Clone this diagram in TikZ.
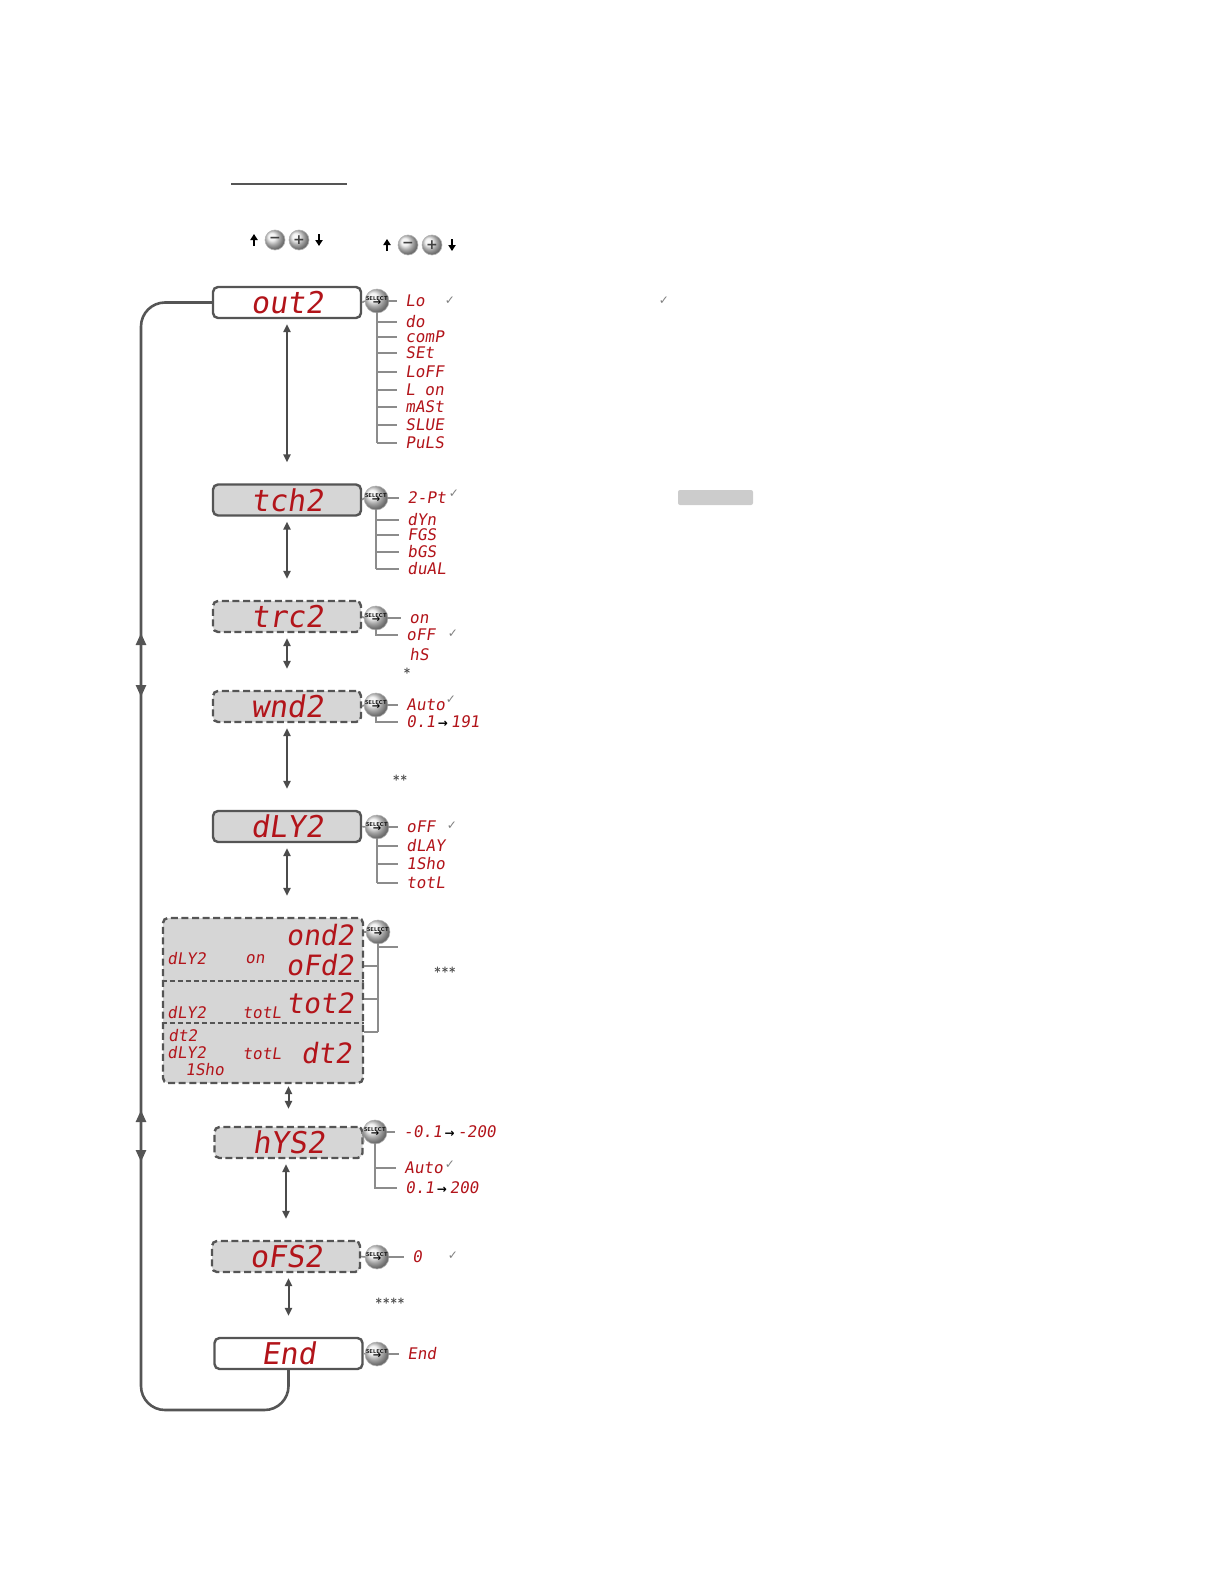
\documentclass[tikz,border=0pt]{standalone}
\usepackage{fontspec}
\newfontfamily\lcdfont{DejaVu Sans Mono}[FakeSlant=0.15]
\newfontfamily\symfont{DejaVu Sans}
\usetikzlibrary{arrows.meta}

\definecolor{lcdred}{RGB}{178,20,26}
\definecolor{lcdgray}{RGB}{214,214,214}
\definecolor{framegray}{RGB}{85,85,85}
\definecolor{branchgray}{RGB}{140,140,140}
\definecolor{arrgray}{RGB}{75,75,75}

\newcommand{\selmark}{SELECT\\[-0.8pt]{\symfont\fontsize{5}{5}\selectfont →}}
\newcommand{\lcdto}{{\color{black}\symfont\bfseries\fontsize{6}{6}\selectfont →}}

\tikzset{
  lcdbox/.style={draw=framegray, line width=1.2pt, rounded corners=2.5pt,
    minimum width=74pt, minimum height=15.5pt, inner sep=0pt,
    text=lcdred, font=\lcdfont\fontsize{15}{15}\selectfont,
    text height=11pt, text depth=0pt},
  whitelcd/.style={lcdbox, fill=white},
  graylcd/.style={lcdbox, fill=lcdgray},
  dashlcd/.style={lcdbox, fill=lcdgray, dash pattern=on 3.5pt off 1.8pt},
  selbtn/.style={circle, draw=gray!60, line width=0.3pt, shade, ball color=gray!15,
    minimum size=11.5pt, inner sep=0pt, align=center,
    font=\sffamily\bfseries\fontsize{2.8}{2.6}\selectfont},
  keybtn/.style={circle, draw=gray!60, line width=0.3pt, shade, ball color=gray!15,
    minimum size=10pt, inner sep=0pt, text=black!75,
    font=\symfont\bfseries\fontsize{7}{7}\selectfont},
  opt/.style={anchor=west, inner sep=0pt, text=lcdred,
    font=\lcdfont\fontsize{8}{8}\selectfont, text height=5.8pt, text depth=0pt},
  bigtxt/.style={anchor=east, inner sep=0pt, text=lcdred,
    font=\lcdfont\fontsize{14}{14}\selectfont, text height=10pt, text depth=0pt},
  tick/.style={inner sep=0pt, text=gray, font=\symfont\fontsize{6}{6}\selectfont},
  stars/.style={inner sep=0pt, text=black!70, font=\sffamily\fontsize{7}{7}\selectfont},
  branch/.style={draw=branchgray, line width=0.8pt},
  twig/.style={branch, shorten >=4pt},
  divline/.style={draw=framegray, line width=0.9pt, dash pattern=on 2.5pt off 1.5pt},
  flowarr/.style={draw=arrgray, line width=1pt,
    {Triangle[length=4pt,width=3.6pt]}-{Triangle[length=4pt,width=3.6pt]},
    shorten <=2.5pt, shorten >=10.5pt},
  loopline/.style={draw=framegray, line width=1.3pt, rounded corners=12pt},
  looparr/.style={draw=framegray, line width=1.3pt,
    {Triangle[length=6pt,width=5pt]}-{Triangle[length=6pt,width=5pt]}},
  keyarr/.style={draw=black, line width=1pt, -{Triangle[length=3pt,width=3.6pt]}},
}

\begin{document}
\begin{tikzpicture}[x=0.5pt, y=-0.5pt]
\useasboundingbox (0,0) rectangle (1224,1584);

% heading rule and keys
\draw [framegray, line width=1pt] (231,184) to (347,184);
\node [keybtn] (mnA) at (275,240) {−};
\node [keybtn] (plA) at (299,240) {+};
\draw [keyarr] (254,246) to (254,234);
\draw [keyarr] (319,234) to (319,246);
\node [keybtn] (mnB) at (408,245) {−};
\node [keybtn] (plB) at (432,245) {+};
\draw [keyarr] (387,251) to (387,239);
\draw [keyarr] (452,239) to (452,251);
\node [tick] (ckR) at (664,301) {✓};
\fill [gray!40, rounded corners=1pt] (678,490) rectangle (753,505);

% displays
\node [whitelcd] (out2) at (287,302.5) {out2};
\node [graylcd] (tch2) at (287,500) {tch2};
\node [dashlcd] (trc2) at (287,616.5) {trc2};
\node [dashlcd] (wnd2) at (287,706.5) {wnd2};
\node [graylcd] (dly2) at (287,826.5) {dLY2};
\node [dashlcd, minimum width=100pt, minimum height=82.5pt] (dlyset) at (263,1000.5) {};
\node [dashlcd] (hys2) at (288.5,1142.5) {hYS2};
\node [dashlcd] (ofs2) at (286,1256.5) {oFS2};
\node [whitelcd] (fin) at (288.5,1353.5) {End};

% inside the delay box
\draw [divline] (dlyset.west |- 0,981) to (dlyset.east |- 0,981);
\draw [divline] (dlyset.west |- 0,1023) to (dlyset.east |- 0,1023);
\node [bigtxt] (ond2) at (354,935) {ond2};
\node [bigtxt] (ofd2) at (354,965) {oFd2};
\node [bigtxt] (tot2) at (354,1003) {tot2};
\node [bigtxt] (dt2) at (352,1053) {dt2};
\node [opt] (lbA) at (167,959) {dLY2};
\node [opt, anchor=center] (lbB) at (255,958) {on};
\node [opt] (lbC) at (167,1013) {dLY2};
\node [opt, anchor=center] (lbD) at (262,1013) {totL};
\node [opt] (lbE) at (168,1036) {dt2};
\node [opt] (lbF) at (167,1053) {dLY2};
\node [opt] (lbG) at (185,1070) {1Sho};
\node [opt, anchor=center] (lbH) at (262,1054) {totL};

% flow arrows
\draw [flowarr] (out2) to (tch2);
\draw [flowarr] (tch2) to (trc2);
\draw [flowarr] (trc2) to (wnd2);
\draw [flowarr] (wnd2) to (dly2);
\draw [flowarr] (dly2.south) to (dly2.south |- dlyset.north);
\draw [flowarr, shorten <=1pt, shorten >=8.5pt] (hys2.north |- dlyset.south) to (hys2.north);
\draw [flowarr] (hys2.south -| ofs2.north) to (ofs2.north);
\draw [flowarr] (ofs2.south -| fin.north) to (fin.north);

% return loop
\draw [loopline] (out2.west) -| (141,1410) -| (fin.south);
\coordinate (lpA) at (141,633);
\coordinate (lpB) at (141,697);
\coordinate (lpC) at (141,1110);
\coordinate (lpD) at (141,1162);
\draw [looparr] (lpA) to (lpB);
\draw [looparr] (lpC) to (lpD);

% out2 choices
\node [selbtn] (selA) at (377,301) {\selmark};
\draw [branch] (out2.east) to (selA.west);
\node [opt] (oLo) at (405,301) {Lo};
\draw [twig] (selA.east) to (oLo.west);
\foreach \t/\y in {do/322, comP/337, SEt/353, LoFF/372, L on/390, mASt/407, SLUE/425, PuLS/443}
  {\node [opt] (oa\y) at (405,\y) {\t};
   \draw [twig] (selA.south |- oa\y.west) to (oa\y.west);}
\draw [branch] (selA.south) to (selA.south |- oa443.west);
\node [tick] (ckA) at (450,301) {✓};

% tch2 choices
\node [selbtn] (selB) at (376,498) {\selmark};
\draw [branch] (tch2.east) to (selB.west);
\node [opt] (o2pt) at (407,498) {2-Pt};
\draw [twig] (selB.east) to (o2pt.west);
\foreach \t/\y in {dYn/520, FGS/535, bGS/552, duAL/569}
  {\node [opt] (ob\y) at (407,\y) {\t};
   \draw [twig] (selB.south |- ob\y.west) to (ob\y.west);}
\draw [branch] (selB.south) to (selB.south |- ob569.west);
\node [tick] (ckB) at (454,494) {✓};

% trc2 choices
\node [selbtn] (selC) at (376,618) {\selmark};
\draw [branch] (trc2.east) to (selC.west);
\node [opt] (oOn) at (409,618) {on};
\draw [twig] (selC.east) to (oOn.west);
\node [opt] (oOff) at (406,635) {oFF};
\draw [branch] (selC.south) |- ([xshift=-4pt]oOff.west);
\node [opt] (oHs) at (409,655) {hS};
\node [tick] (ckC) at (453,634) {✓};
\node [stars] (stA) at (407,673) {*};

% wnd2 choices
\node [selbtn] (selD) at (376,705) {\selmark};
\draw [branch] (wnd2.east) to (selD.west);
\node [opt] (oAutoD) at (406,705) {Auto};
\draw [twig] (selD.east) to (oAutoD.west);
\node [opt] (oRngD) at (406,722) {0.1\,\lcdto\,191};
\draw [branch] (selD.south) |- ([xshift=-4pt]oRngD.west);
\node [tick] (ckD) at (451,700) {✓};
\node [stars] (stB) at (400,780) {**};

% dLY2 choices
\node [selbtn] (selE) at (377,827) {\selmark};
\draw [branch] (dly2.east) to (selE.west);
\node [opt] (oOffE) at (406,827) {oFF};
\draw [twig] (selE.east) to (oOffE.west);
\foreach \t/\y in {dLAY/846, 1Sho/864, totL/883}
  {\node [opt] (oe\y) at (406,\y) {\t};
   \draw [twig] (selE.south |- oe\y.west) to (oe\y.west);}
\draw [branch] (selE.south) to (selE.south |- oe883.west);
\node [tick] (ckE) at (452,826) {✓};

% delay times
\node [selbtn] (selF) at (378,932) {\selmark};
\draw [branch] (dlyset.east |- selF) to (selF.west);
\coordinate (fOut) at (398,947);
\draw [branch] (selF.south) to (selF.south |- 0,1032);
\draw [branch] (selF.south |- fOut) to (fOut);
\draw [branch] (dlyset.east |- 0,966) to (selF.south |- 0,966);
\draw [branch] (dlyset.east |- 0,999) to (selF.south |- 0,999);
\draw [branch] (dlyset.east |- 0,1032) to (selF.south |- 0,1032);
\node [stars] (stC) at (445,972) {***};

% hYS2 choices
\node [selbtn] (selG) at (375,1132) {\selmark};
\draw [branch] (hys2.east) to (selG.west);
\node [opt] (oNeg) at (403,1132) {-0.1\,\lcdto\,-200};
\draw [twig] (selG.east) to (oNeg.west);
\node [opt] (oAutoG) at (404,1168) {Auto};
\draw [twig] (selG.south |- oAutoG.west) to (oAutoG.west);
\node [opt] (oPos) at (405,1188) {0.1\,\lcdto\,200};
\draw [branch] (selG.south) |- ([xshift=-4pt]oPos.west);
\node [tick] (ckG) at (450,1165) {✓};

% oFS2 choice
\node [selbtn] (selH) at (377,1257) {\selmark};
\draw [branch] (ofs2.east) to (selH.west);
\node [opt] (oZero) at (412,1257) {0};
\draw [twig] (selH.east) to (oZero.west);
\node [tick] (ckH) at (453,1256) {✓};
\node [stars] (stD) at (390,1303) {****};

% End
\node [selbtn] (selI) at (377,1354) {\selmark};
\draw [branch] (fin.east) to (selI.west);
\node [opt] (oEnd) at (407,1354) {End};
\draw [twig] (selI.east) to (oEnd.west);
\end{tikzpicture}
\end{document}
